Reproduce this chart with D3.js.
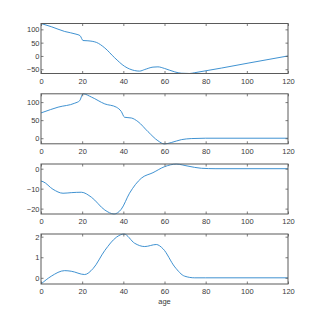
<!DOCTYPE html>
<html>
<head>
<meta charset="utf-8">
<script src="https://cdn.jsdelivr.net/npm/d3@7"></script>
<style>
html,body{margin:0;padding:0;background:#fff;}
svg{display:block;}
text{font-family:"Liberation Sans Narrow","Liberation Sans",Arial,sans-serif;}
</style>
</head>
<body>
<svg id="chart" width="319" height="319"></svg>
<script>
// Data
const xTicks = [0, 20, 40, 60, 80, 100, 120];
const xLabel = "age";

const age1 = [0, 5, 11.5, 17, 19, 20.4, 22.8, 26.9, 31, 35.8, 40.6, 45.5, 47.9, 50.4, 54.4, 56.8, 60, 65, 68.2, 72.2, 74.7, 100.6, 120];
const val1 = [122, 110, 92, 82, 76, 58, 57, 51, 30, -7, -39, -55, -57, -51, -42, -41, -47, -60, -65, -66, -63, -27, 0];
const yTicks1 = [-50, 0, 50, 100];
const yDom1 = [-66, 122];

const age2 = [0, 1, 8.3, 16.4, 18.8, 20.4, 24.5, 31, 36.6, 39, 40.6, 43.9, 47.1, 52, 56.8, 60, 63.3, 68.2, 73, 80, 120];
const val2 = [70, 72, 86, 97, 104, 123, 114, 95, 86, 74, 58, 56, 46, 18, -7, -16, -12, -4, -1, 0, 0];
const yTicks2 = [0, 50, 100];
const yDom2 = [-15.5, 123];

const age3 = [0, 1, 5.8, 10.7, 14.7, 19.6, 24.5, 31, 35.5, 39, 43, 48.7, 54.4, 60, 65.7, 71.4, 77.9, 85, 120];
const val3 = [-6.2, -6.5, -10.3, -12.3, -12, -11.8, -14.3, -20.7, -22.7, -20.3, -12.3, -4.8, -2, 1, 2.3, 1.3, 0.2, 0, 0];
const yTicks3 = [-20, -10, 0];
const yDom3 = [-22.7, 2.35];

const age4 = [0, 5, 11.5, 14.7, 21.2, 25.3, 31, 36.6, 40.3, 45.5, 50.4, 56, 59.3, 65, 69.8, 74.7, 80, 120];
const val4 = [-0.3, 0.08, 0.35, 0.32, 0.16, 0.45, 1.33, 1.97, 2.13, 1.68, 1.52, 1.62, 1.41, 0.53, 0.08, 0, 0, 0];
const yTicks4 = [0, 1, 2];
const yDom4 = [-0.3, 2.13];

const panels = [
  {age: age1, val: val1, ticks: yTicks1, dom: yDom1, top: 23.5},
  {age: age2, val: val2, ticks: yTicks2, dom: yDom2, top: 93.8},
  {age: age3, val: val3, ticks: yTicks3, dom: yDom3, top: 164},
  {age: age4, val: val4, ticks: yTicks4, dom: yDom4, top: 234}
];

const svg = d3.select("#chart");
const left = 41, right = 288, h = 50;
const axisColor = "#5a5a5a";
const lineColor = "#2a86cc";
const tl = 2.5;

const x = d3.scaleLinear().domain([0, 120]).range([left, right]);

panels.forEach(p => {
  const y = d3.scaleLinear().domain(p.dom).range([p.top + h, p.top]);
  const g = svg.append("g");

  const line = d3.line().x((d, i) => x(p.age[i])).y((d, i) => y(p.val[i])).curve(d3.curveMonotoneX);
  g.append("path").datum(p.val).attr("d", line)
    .attr("fill", "none").attr("stroke", lineColor).attr("stroke-width", 0.9);

  const bottom = d3.axisBottom(x).tickValues(xTicks).tickSizeInner(-tl).tickSizeOuter(0).tickPadding(5).tickFormat(d3.format("d"));
  const top = d3.axisTop(x).tickValues(xTicks).tickSizeInner(-tl).tickSizeOuter(0).tickFormat("");
  const leftAx = d3.axisLeft(y).tickValues(p.ticks).tickSizeInner(-tl).tickSizeOuter(0).tickPadding(1.5).tickFormat(d3.format("d"));
  const rightAx = d3.axisRight(y).tickValues(p.ticks).tickSizeInner(-tl).tickSizeOuter(0).tickFormat("");

  const styleAx = sel => {
    sel.selectAll("path.domain").remove();
    sel.selectAll("line").attr("stroke", axisColor).attr("stroke-width", 0.8);
    sel.selectAll("text").attr("fill", "#3a3a3a").style("font-size", "7.5px");
  };
  g.append("g").attr("transform", `translate(0,${p.top + h})`).call(bottom).call(styleAx);
  g.append("g").attr("transform", `translate(0,${p.top})`).call(top).call(styleAx);
  g.append("g").attr("transform", `translate(${left},0)`).call(leftAx).call(styleAx);
  g.append("g").attr("transform", `translate(${right},0)`).call(rightAx).call(styleAx);

  g.append("rect").attr("x", left).attr("y", p.top).attr("width", right - left).attr("height", h)
    .attr("fill", "none").attr("stroke", axisColor).attr("stroke-width", 1);
});

svg.append("text").attr("x", (left + right) / 2).attr("y", 304)
  .attr("text-anchor", "middle").attr("fill", "#3a3a3a").style("font-size", "7.5px").text(xLabel);
</script>
</body>
</html>
